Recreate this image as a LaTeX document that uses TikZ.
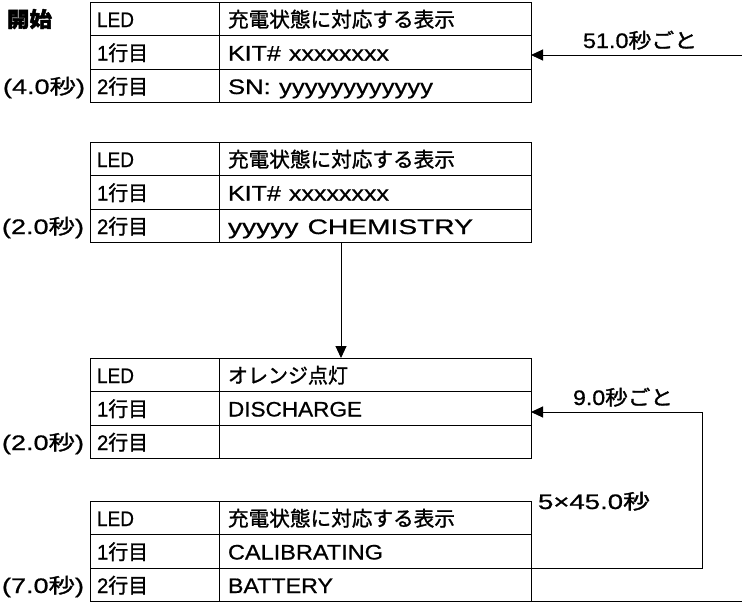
\documentclass[tikz,border=0pt]{standalone}
\usepackage{fontspec}
\setmainfont{Noto Sans CJK JP}[FakeBold=1.3, BoldFeatures={FakeBold=2}]
\newfontfamily\latf{Liberation Sans}[FakeBold=0.7]
\usetikzlibrary{arrows.meta}
\newcommand{\lt}[1]{{\latf\fontsize{21pt}{24pt}\selectfont #1}}
\newcommand{\fitw}[2]{\resizebox{#1}{\height}{#2}}
\tikzset{
  base/.style={font=\fontsize{20.5pt}{24pt}\selectfont, inner sep=0pt, outer sep=0pt},
  cellbase/.style={base, draw, line width=1pt, anchor=north west, minimum height=33.5pt,
    inner ysep=0pt, align=left, text height=16.5pt, text depth=0pt},
  lcell/.style={cellbase, minimum width=129pt, inner xsep=7pt, text width=115pt},
  rcell/.style={cellbase, minimum width=312pt, inner xsep=9pt, text width=294pt},
  lbl/.style={base, text height=16.5pt, text depth=0pt},
  arr/.style={line width=1pt, -{Triangle[length=12pt,width=11pt]}},
  ln/.style={line width=1pt}
}
\newcommand{\dtable}[5]{%
  \node[lcell] (#1l1) at (90,#2) {\fitw{37pt}{\lt{LED}}};
  \node[rcell] (#1r1) at (#1l1.north east) {#3};
  \node[lcell] (#1l2) at (#1l1.south west) {\fitw{51pt}{\lt{1}行目}};
  \node[rcell] (#1r2) at (#1l2.north east) {#4};
  \node[lcell] (#1l3) at (#1l2.south west) {\fitw{51pt}{\lt{2}行目}};
  \node[rcell] (#1r3) at (#1l3.north east) {#5};
}
\begin{document}
\begin{tikzpicture}[x=1pt,y=-1pt]
\useasboundingbox (0,0) rectangle (742,603);
\dtable{ta}{2}{\fitw{227pt}{充電状態に対応する表示}}{\fitw{161pt}{\lt{KIT\# xxxxxxxx}}}{\fitw{205pt}{\lt{SN: yyyyyyyyyyyy}}}
\dtable{tb}{142}{\fitw{227pt}{充電状態に対応する表示}}{\fitw{161pt}{\lt{KIT\# xxxxxxxx}}}{\fitw{245pt}{\lt{yyyyy CHEMISTRY}}}
\dtable{tc}{358}{\fitw{120pt}{オレンジ点灯}}{\fitw{134pt}{\lt{DISCHARGE}}}{}
\dtable{td}{501}{\fitw{227pt}{充電状態に対応する表示}}{\fitw{155pt}{\lt{CALIBRATING}}}{\fitw{105pt}{\lt{BATTERY}}}
% left labels
\coordinate (stx) at (7,0);
\node[lbl, anchor=west, font=\fontsize{21pt}{24pt}\selectfont\bfseries] (start) at (stx |- tal1.center) {\fitw{45pt}{開始}};
\node[lbl, anchor=east] (sa) at ([xshift=-5pt]tal3.west) {\fitw{82pt}{\lt{(4.0}秒\lt{)}}};
\node[lbl, anchor=east] (sb) at ([xshift=-6pt]tbl3.west) {\fitw{82pt}{\lt{(2.0}秒\lt{)}}};
\node[lbl, anchor=east] (sc) at ([xshift=-6pt]tcl3.west) {\fitw{82pt}{\lt{(2.0}秒\lt{)}}};
\node[lbl, anchor=east] (sd) at ([xshift=-6pt]tdl3.west) {\fitw{82pt}{\lt{(7.0}秒\lt{)}}};
% top incoming arrow
\coordinate (inA) at (742,55);
\draw[arr] (inA) -- (inA -| tar2.east);
\node[base, anchor=base west] (labA) at (583,48) {\fitw{114pt}{\lt{51.0}秒ごと}};
% arrow between tables 2 and 3
\coordinate (dx) at (341,0);
\draw[arr] (dx |- tbr3.south) -- (dx |- tcr1.north);
% loop
\coordinate (lp1) at (702,568);
\coordinate (lp2) at (702,412);
\draw[arr] (tdr2.south east) -- (lp1) -- (lp2) -- (lp2 -| tcr2.east);
\node[base, anchor=base west] (labB) at (573,405) {\fitw{100pt}{\lt{9.0}秒ごと}};
\node[base, anchor=base west] (labC) at (538,509) {\fitw{112pt}{\lt{5×45.0}秒}};
% bottom line extension
\coordinate (be) at (742,0);
\draw[ln] (tdr3.south east) -- (be |- tdr3.south);
\end{tikzpicture}
\end{document}
